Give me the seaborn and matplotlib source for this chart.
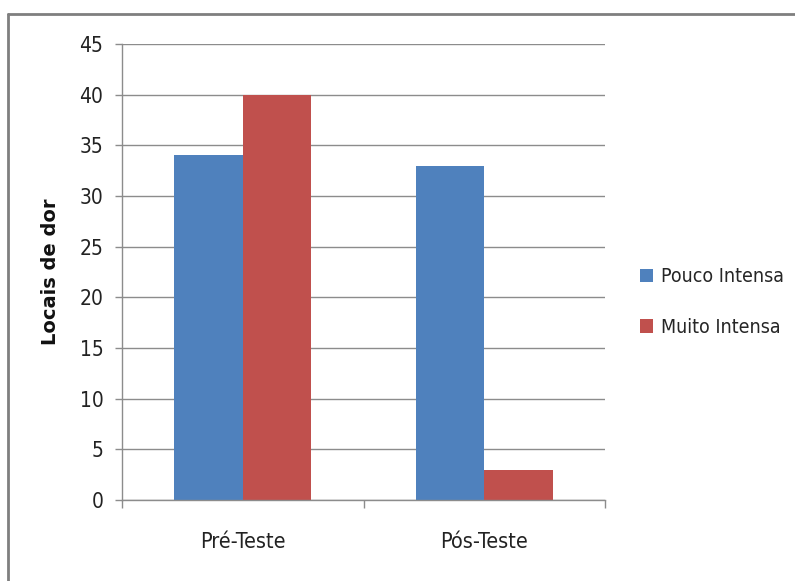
import matplotlib
matplotlib.use("Agg")
import matplotlib.pyplot as plt
import seaborn as sns
import pandas as pd
from matplotlib.lines import Line2D

categories = ["Pré-Teste", "Pós-Teste"]
series_names = ["Pouco Intensa", "Muito Intensa"]
pouco = [34, 33]
muito = [40, 3]
colors = ["#4F81BD", "#C0504D"]
yticks = [0, 5, 10, 15, 20, 25, 30, 35, 40, 45]

df = pd.DataFrame({
    "cat": categories * 2,
    "serie": [series_names[0]] * 2 + [series_names[1]] * 2,
    "val": pouco + muito,
})

sns.set_theme(style="white")
plt.rcParams["font.family"] = ["DejaVu Sans"]
plt.rcParams["font.stretch"] = "condensed"

fig = plt.figure(figsize=(7.95, 5.81), dpi=100)
ax = fig.add_axes([122/795, 1-500/581, (605-122)/795, (500-44)/581])

sns.barplot(data=df, x="cat", y="val", hue="serie", palette=colors,
            width=0.567, gap=0, ax=ax, saturation=1, legend=True, edgecolor="none")

ax.set_ylim(0, 45)
ax.set_xlim(-0.5, 1.5)
ax.set_yticks(yticks)
ax.set_yticklabels([str(t) for t in yticks], fontsize=15, stretch="condensed")
ax.yaxis.grid(True, color="#8c8c8c", linewidth=1)
ax.set_axisbelow(True)
for s in ["top", "right"]:
    ax.spines[s].set_visible(False)
for s in ["left", "bottom"]:
    ax.spines[s].set_color("#8c8c8c")
    ax.spines[s].set_linewidth(1)
ax.tick_params(axis="y", length=5, width=1, color="#8c8c8c", left=True, pad=8.5, labelcolor="#222222")
ax.set_xticks([0, 1])
ax.set_xticklabels(categories, fontsize=15.5, stretch="condensed", color="#222222")
ax.tick_params(axis="x", which="major", length=0, pad=23)
ax.set_xticks([-0.5, 0.5, 1.5], minor=True)
ax.tick_params(axis="x", which="minor", length=6, width=1, color="#8c8c8c", bottom=True)
ax.set_xlabel("")
ax.set_ylabel("Locais de dor", fontsize=14, fontweight="bold", stretch="normal",
              labelpad=14, color="#111111")

handles, labels = ax.get_legend_handles_labels()
ax.legend(handles, labels, loc="center left", bbox_to_anchor=(622/795, 1-302/581),
          bbox_transform=fig.transFigure, frameon=False,
          handlelength=0.7, handleheight=0.7, handletextpad=0.4, labelspacing=1.6,
          prop={"size": 14, "stretch": "condensed"})

# outer chart frame (top and left visible)
fig.add_artist(Line2D([8/795, 1.0], [1-14/581, 1-14/581], transform=fig.transFigure,
                      color="#7f7f7f", linewidth=2))
fig.add_artist(Line2D([8/795, 8/795], [0, 1-14/581], transform=fig.transFigure,
                      color="#7f7f7f", linewidth=2))

fig.savefig("out.png", dpi=100)
